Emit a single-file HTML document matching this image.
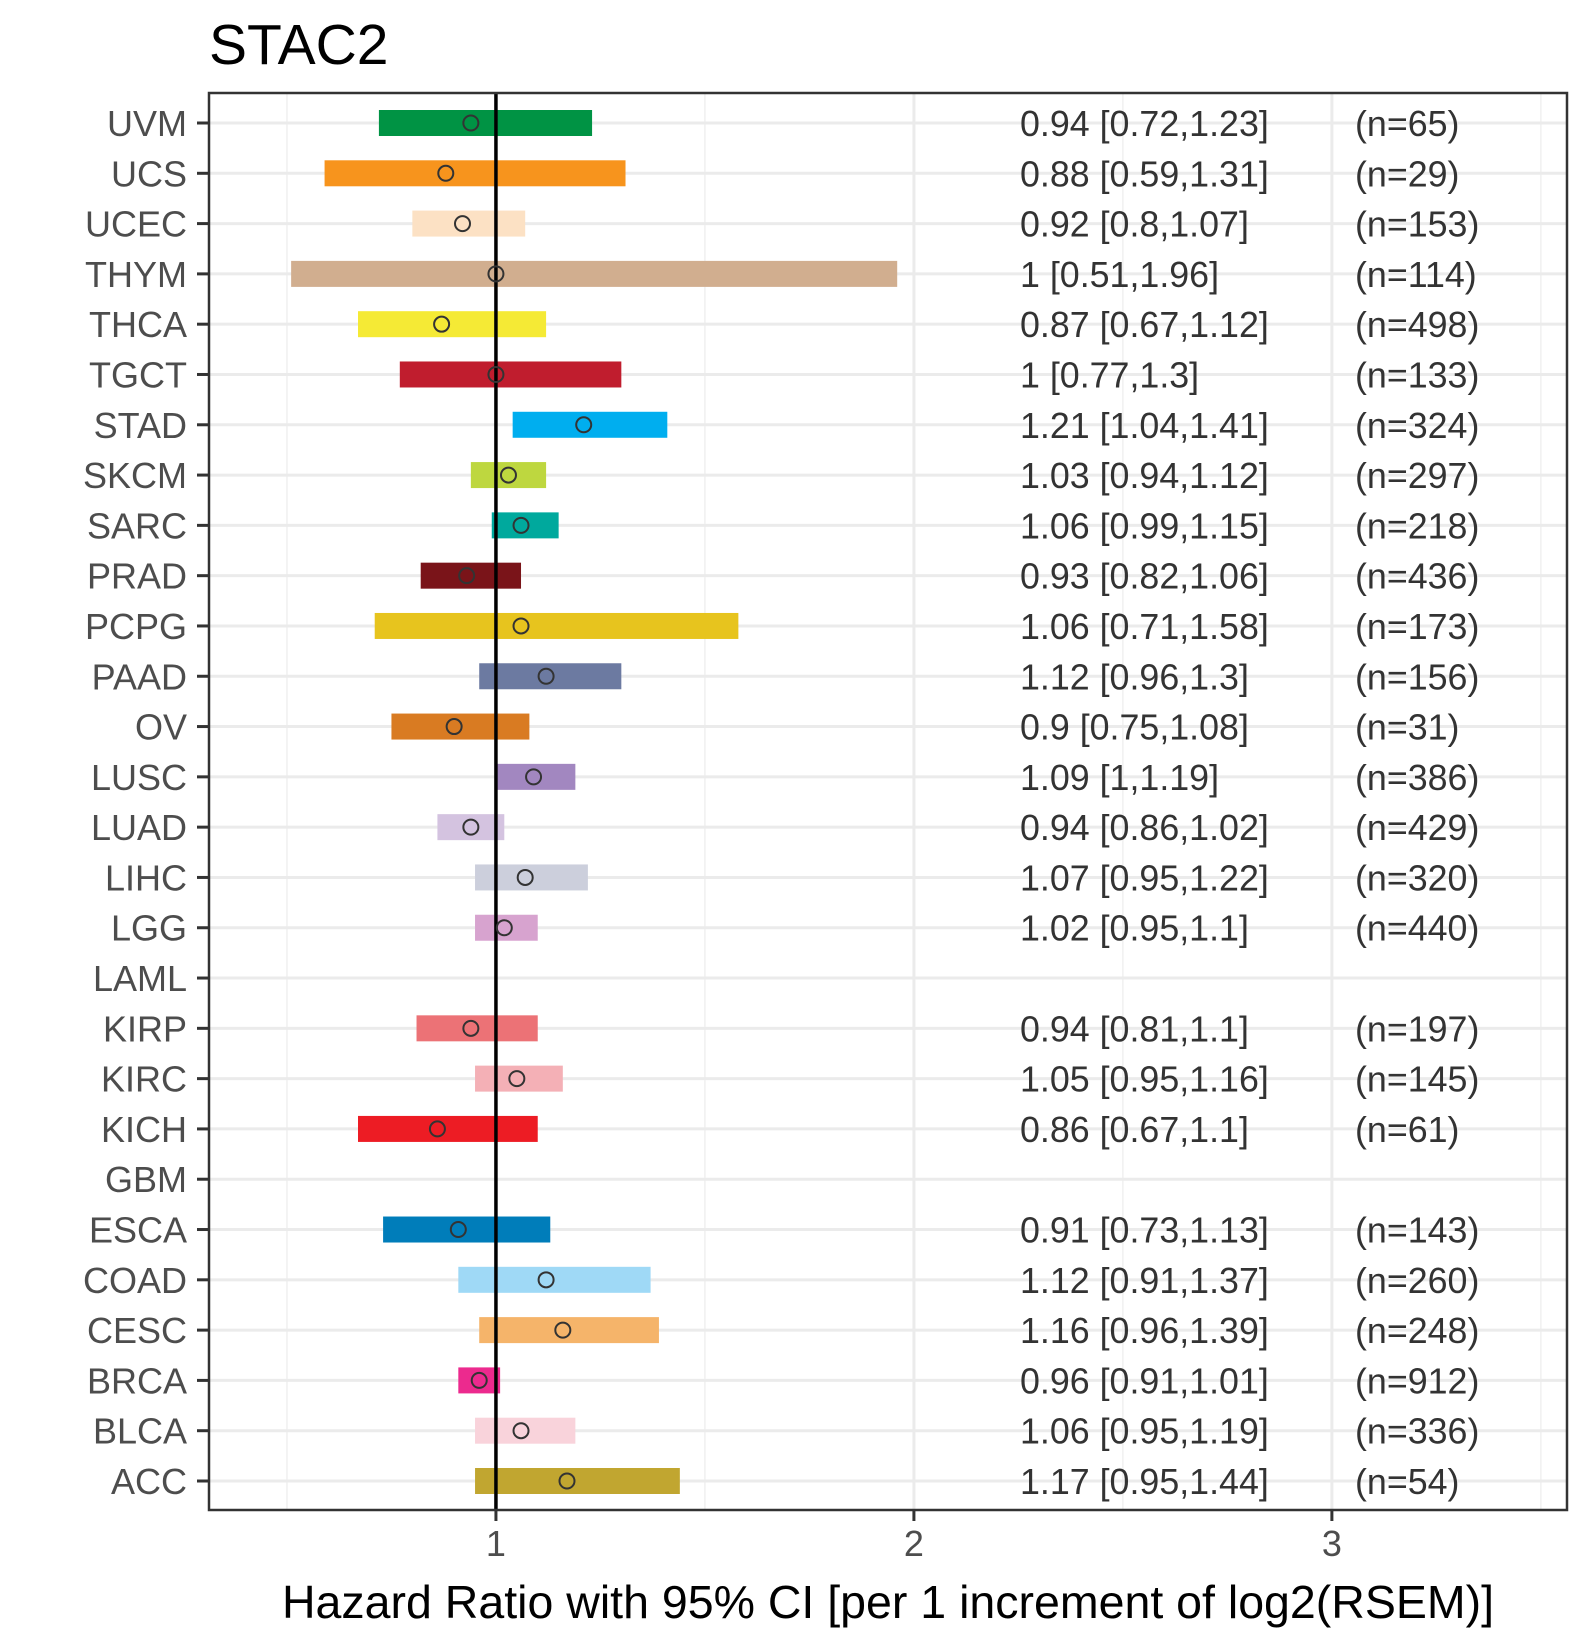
<!DOCTYPE html>
<html><head><meta charset="utf-8"><style>
html,body{margin:0;padding:0;background:#fff;}
svg{display:block;font-family:"Liberation Sans",Arial,sans-serif;}
</style></head><body>
<svg id="chart" width="1590" height="1650" viewBox="0 0 1590 1650" xmlns="http://www.w3.org/2000/svg">
<text x="209" y="64" font-size="57" fill="#000">STAC2</text>
<rect x="209" y="93" width="1358" height="1417" fill="#fff"/>
<g id="grid"></g>
<g id="bars"></g>
<line id="refline" x1="0" x2="0" y1="93" y2="1510" stroke="#000" stroke-width="3.5"/>
<g id="labels"></g>
<rect x="209" y="93" width="1358" height="1417" fill="none" stroke="#333" stroke-width="2.5"/>
<g id="xaxis"></g>
<text x="888" y="1618" font-size="46.5" text-anchor="middle" fill="#000">Hazard Ratio with 95% CI [per 1 increment of log2(RSEM)]</text>
</svg>
<script>
const cancers = ["UVM","UCS","UCEC","THYM","THCA","TGCT","STAD","SKCM","SARC","PRAD","PCPG","PAAD","OV","LUSC","LUAD","LIHC","LGG","LAML","KIRP","KIRC","KICH","GBM","ESCA","COAD","CESC","BRCA","BLCA","ACC"];
const hr = [0.94,0.88,0.92,1,0.87,1,1.21,1.03,1.06,0.93,1.06,1.12,0.9,1.09,0.94,1.07,1.02,null,0.94,1.05,0.86,null,0.91,1.12,1.16,0.96,1.06,1.17];
const lo = [0.72,0.59,0.8,0.51,0.67,0.77,1.04,0.94,0.99,0.82,0.71,0.96,0.75,1,0.86,0.95,0.95,null,0.81,0.95,0.67,null,0.73,0.91,0.96,0.91,0.95,0.95];
const hi = [1.23,1.31,1.07,1.96,1.12,1.3,1.41,1.12,1.15,1.06,1.58,1.3,1.08,1.19,1.02,1.22,1.1,null,1.1,1.16,1.1,null,1.13,1.37,1.39,1.01,1.19,1.44];
const ciLabels = ["0.94 [0.72,1.23]","0.88 [0.59,1.31]","0.92 [0.8,1.07]","1 [0.51,1.96]","0.87 [0.67,1.12]","1 [0.77,1.3]","1.21 [1.04,1.41]","1.03 [0.94,1.12]","1.06 [0.99,1.15]","0.93 [0.82,1.06]","1.06 [0.71,1.58]","1.12 [0.96,1.3]","0.9 [0.75,1.08]","1.09 [1,1.19]","0.94 [0.86,1.02]","1.07 [0.95,1.22]","1.02 [0.95,1.1]","","0.94 [0.81,1.1]","1.05 [0.95,1.16]","0.86 [0.67,1.1]","","0.91 [0.73,1.13]","1.12 [0.91,1.37]","1.16 [0.96,1.39]","0.96 [0.91,1.01]","1.06 [0.95,1.19]","1.17 [0.95,1.44]"];
const nLabels = ["(n=65)","(n=29)","(n=153)","(n=114)","(n=498)","(n=133)","(n=324)","(n=297)","(n=218)","(n=436)","(n=173)","(n=156)","(n=31)","(n=386)","(n=429)","(n=320)","(n=440)","","(n=197)","(n=145)","(n=61)","","(n=143)","(n=260)","(n=248)","(n=912)","(n=336)","(n=54)"];
const colors = ["#009344","#F7941D","#FCE1C4","#D1AE8F","#F5EA35","#C01D2E","#00AEEF","#BED73F","#00A99D","#7A1419","#E7C41E","#6C7AA1","#D97B22","#A287C0","#D4C3E0","#CCCFDC","#D7A3CF","#ffffff","#EC7276","#F4B0B6","#ED1C24","#ffffff","#007DBA","#9FD9F6","#F5B46A","#EC2A8E","#F9D3DB","#C1A630"];
const xTicks = [1,2,3];
const xMinor = [0.5,1.5,2.5,3.5];

const NS="http://www.w3.org/2000/svg";
const X0=209,X1=1567,Y0=93,Y1=1510, xmin=0.3135, xmax=3.5625;
const xs=v=>X0+(v-xmin)/(xmax-xmin)*(X1-X0);
const ys=i=>123+i*(1481-123)/(cancers.length-1);
function mk(tag,attrs,parent){const e=document.createElementNS(NS,tag);for(const k in attrs)e.setAttribute(k,attrs[k]);parent.appendChild(e);return e;}
const grid=document.getElementById('grid'),bars=document.getElementById('bars'),labels=document.getElementById('labels'),xaxis=document.getElementById('xaxis');
xMinor.forEach(v=>{const l=mk('line',{x1:xs(v),x2:xs(v),y1:Y0,y2:Y1,stroke:'#f0f0f0','stroke-width':1.5},grid);

});
xTicks.forEach(v=>{const l=mk('line',{x1:xs(v),x2:xs(v),y1:Y0,y2:Y1,stroke:'#ebebeb','stroke-width':3},grid);


const t=mk('line',{x1:xs(v),x2:xs(v),y1:Y1,y2:Y1+11,stroke:'#333','stroke-width':3},xaxis);


const tx=mk('text',{x:xs(v),y:Y1+46,'font-size':36,'text-anchor':'middle',fill:'#4d4d4d'},xaxis);tx.textContent=v;

});
document.getElementById('refline').setAttribute('x1',xs(1));document.getElementById('refline').setAttribute('x2',xs(1));
cancers.forEach((c,i)=>{const y=ys(i);
const g=mk('line',{x1:X0,x2:X1,y1:y,y2:y,stroke:'#ebebeb','stroke-width':3},grid);


if(hr[i]!==null){
const r=mk('rect',{x:xs(lo[i]),y:y-13,width:xs(hi[i])-xs(lo[i]),height:26,fill:colors[i]},bars);


const p=mk('circle',{cx:xs(hr[i]),cy:y,r:7.5,fill:'none',stroke:'#333','stroke-width':2},labels);

}
const tk=mk('line',{x1:197,x2:209,y1:y,y2:y,stroke:'#333','stroke-width':3},labels);


const t=mk('text',{x:187,y:y+13,'font-size':36,'text-anchor':'end',fill:'#4d4d4d'},labels);t.textContent=c;


const a=mk('text',{x:1020,y:y+13,'font-size':35.8,fill:'#333'},labels);a.textContent=ciLabels[i];


const n=mk('text',{x:1355,y:y+13,'font-size':35.8,fill:'#333'},labels);n.textContent=nLabels[i];


});
</script>
</body></html>
